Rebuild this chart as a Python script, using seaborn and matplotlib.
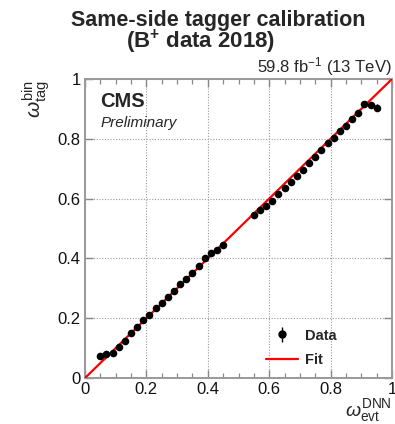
import numpy as np
import pandas as pd
import matplotlib
matplotlib.use("Agg")
import matplotlib.pyplot as plt
from matplotlib.ticker import MultipleLocator, FuncFormatter
from matplotlib.lines import Line2D
from matplotlib.container import ErrorbarContainer
from matplotlib.collections import LineCollection
import seaborn as sns

# Calibration data: mean per-event DNN mistag vs. measured mistag per bin
omega_evt = [0.05, 0.07, 0.09, 0.11, 0.13, 0.15, 0.17, 0.19, 0.21, 0.23, 0.25,
             0.27, 0.29, 0.31, 0.33, 0.35, 0.37, 0.39, 0.41, 0.43, 0.45,
             0.55, 0.57, 0.59, 0.61, 0.63, 0.65, 0.67, 0.69, 0.71, 0.73, 0.75,
             0.77, 0.79, 0.81, 0.83, 0.85, 0.87, 0.89, 0.91, 0.93, 0.95]
omega_tag = [0.072, 0.080, 0.085, 0.105, 0.125, 0.149, 0.170, 0.194, 0.211, 0.233, 0.252,
             0.270, 0.292, 0.314, 0.331, 0.352, 0.376, 0.400, 0.417, 0.428, 0.445,
             0.545, 0.562, 0.575, 0.592, 0.614, 0.634, 0.657, 0.677, 0.696, 0.718, 0.740,
             0.762, 0.787, 0.802, 0.826, 0.844, 0.865, 0.887, 0.918, 0.913, 0.904]
omega_tag_err = [0.006, 0.004, 0.004, 0.004, 0.004, 0.004, 0.004, 0.004, 0.004, 0.004, 0.004,
                 0.004, 0.004, 0.004, 0.004, 0.004, 0.004, 0.004, 0.004, 0.004, 0.004,
                 0.004, 0.004, 0.004, 0.004, 0.004, 0.004, 0.004, 0.004, 0.004, 0.004, 0.004,
                 0.004, 0.004, 0.004, 0.004, 0.004, 0.005, 0.005, 0.006, 0.007, 0.012]

# Linear calibration fit parameters
fit_slope = 1.0
fit_intercept = 0.0
fit_range = [0.0, 1.0]

x_ticks = [0, 0.2, 0.4, 0.6, 0.8, 1]
y_ticks = [0, 0.2, 0.4, 0.6, 0.8, 1]

df = pd.DataFrame({"omega_evt": omega_evt, "omega_tag": omega_tag, "err": omega_tag_err})
fit_x = np.array(fit_range)
fit_df = pd.DataFrame({"x": fit_x, "y": fit_intercept + fit_slope * fit_x})

sns.set_theme(style="ticks")
plt.rcParams["font.family"] = ["Liberation Sans", "DejaVu Sans"]
plt.rcParams["mathtext.fontset"] = "custom"
plt.rcParams["mathtext.rm"] = "Liberation Sans"
plt.rcParams["mathtext.it"] = "Liberation Sans:italic"
plt.rcParams["mathtext.bf"] = "Liberation Sans:bold"

W, H = 395, 424
fig = plt.figure(figsize=(W / 100, H / 100), dpi=100)
ax = fig.add_axes([85 / W, 1 - 378 / H, (392 - 85) / W, (378 - 79) / H])

# Fit line
sns.lineplot(data=fit_df, x="x", y="y", color="#ff0000", linewidth=1.6, ax=ax, zorder=3)

# Data points with error bars
ax.errorbar(df["omega_evt"], df["omega_tag"], yerr=df["err"], xerr=0.006,
            fmt="none", ecolor="black", elinewidth=1.0, zorder=4)
sns.scatterplot(data=df, x="omega_evt", y="omega_tag", color="black", s=30,
                edgecolor="black", linewidth=0, ax=ax, zorder=5)

ax.set_xlim(0, 1)
ax.set_ylim(0, 1)
ax.set_xlabel("")
ax.set_ylabel("")

fmt = FuncFormatter(lambda v, p: "0" if abs(v) < 1e-9 else ("1" if abs(v - 1) < 1e-9 else f"{v:.1f}"))
ax.set_xticks(x_ticks)
ax.set_yticks(y_ticks)
ax.xaxis.set_major_formatter(fmt)
ax.yaxis.set_major_formatter(fmt)
ax.xaxis.set_minor_locator(MultipleLocator(0.05))

ax.grid(True, which="major", linestyle=(0, (1, 1.5)), color="#999999", linewidth=0.8)
ax.tick_params(which="both", direction="in", top=True, right=True, color="#888888",
               labelsize=12, labelcolor="#111111")
ax.tick_params(which="major", length=6, width=1.0, pad=3)
ax.tick_params(which="minor", length=3.5, width=0.9)
for s in ax.spines.values():
    s.set_color("#999999")
    s.set_linewidth(1.4)

# Titles and labels
fig.text(218 / W, 1 - 26 / H, "Same-side tagger calibration", ha="center", va="baseline",
         fontsize=15.5, fontweight="bold")
fig.text(201 / W, 1 - 48 / H, r"(B$^{\mathbf{+}}$ data 2018)", ha="center", va="baseline",
         fontsize=16, fontweight="bold")
fig.text(392 / W, 1 - 72 / H, r"59.8 fb$^{\mathregular{-1}}$ (13 TeV)", ha="right", va="baseline",
         fontsize=12)
ax.text(0.05, 1 - (107 - 79) / 299, "CMS", transform=ax.transAxes, fontsize=14.5,
        fontweight="bold", va="baseline")
ax.text(0.05, 1 - (127 - 79) / 299, "Preliminary", transform=ax.transAxes, fontsize=11,
        fontstyle="italic", va="baseline")
fig.text(36 / W, 1 - 80 / H, r"$\omega^{\mathregular{bin}}_{\mathregular{tag}}$", rotation=90,
         ha="center", va="top", fontsize=15)
fig.text(392 / W, 0.5 / H, r"$\omega^{\mathregular{DNN}}_{\mathregular{evt}}$",
         ha="right", va="bottom", fontsize=14)

data_line = Line2D([0], [0], color="black", marker="o", markersize=5, linestyle="none")
err_seg = LineCollection([[(0, -1), (0, 1)]], colors="black", linewidths=1.0)
eb = ErrorbarContainer((data_line, (), (err_seg,)), has_xerr=False, has_yerr=True)
fit_handle = Line2D([0], [0], color="#ff0000", linewidth=1.6)
ax.legend([eb, fit_handle], ["Data", "Fit"], loc="upper left",
          bbox_to_anchor=(0.57, 0.185), frameon=False,
          prop={"weight": "bold", "size": 10.5}, handlelength=2.2,
          handletextpad=0.5, labelspacing=0.7, borderaxespad=0)

fig.savefig("out.png", dpi=100)
